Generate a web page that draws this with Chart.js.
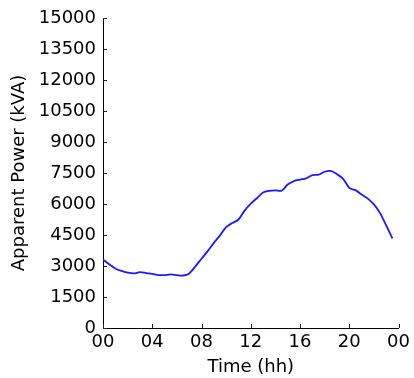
<!DOCTYPE html>
<html>
<head>
<meta charset="utf-8">
<script src="https://cdn.jsdelivr.net/npm/chart.js@4"></script>
<style>
  html, body { margin: 0; padding: 0; background: #fff; }
  #wrap { width: 414px; height: 378px; }
</style>
</head>
<body>
<div id="wrap"><canvas id="c" width="414" height="378"></canvas></div>
<script>
// Half-hourly load profile over one day
const hours = [
  0, 0.5, 1, 1.5, 2, 2.5, 3, 3.5, 4, 4.5, 5, 5.5,
  6, 6.5, 7, 7.5, 8, 8.5, 9, 9.5, 10, 10.5, 11, 11.5,
  12, 12.5, 13, 13.5, 14, 14.5, 15, 15.5, 16, 16.5, 17, 17.5,
  18, 18.5, 19, 19.5, 20, 20.5, 21, 21.5, 22, 22.5, 23, 23.5
];
const apparentPower = [
  3320, 3080, 2880, 2760, 2680, 2640, 2700, 2660, 2620, 2560, 2560, 2590,
  2560, 2540, 2640, 2980, 3350, 3720, 4120, 4480, 4880, 5080, 5250, 5680,
  6020, 6280, 6560, 6640, 6660, 6640, 6940, 7110, 7180, 7240, 7400, 7420,
  7560, 7600, 7440, 7220, 6780, 6670, 6460, 6260, 5980, 5560, 4960, 4340
];
const xTicks = [0, 4, 8, 12, 16, 20, 24];
const yTicks = [0, 1500, 3000, 4500, 6000, 7500, 9000, 10500, 12000, 13500, 15000];

const FONT = 'DejaVu Sans';
const FONT_SIZE = 18;

// Short tick marks pointing into the plot area
const inwardTicks = {
  id: 'inwardTicks',
  afterDraw(chart) {
    const { ctx, chartArea, scales } = chart;
    ctx.save();
    ctx.strokeStyle = '#222';
    ctx.lineWidth = 1;
    ctx.beginPath();
    xTicks.forEach(v => {
      const px = Math.round(scales.x.getPixelForValue(v)) + 0.5;
      ctx.moveTo(px, chartArea.bottom);
      ctx.lineTo(px, chartArea.bottom - 4);
    });
    yTicks.forEach(v => {
      const py = Math.round(scales.y.getPixelForValue(v)) + 0.5;
      ctx.moveTo(chartArea.left, py);
      ctx.lineTo(chartArea.left + 4, py);
    });
    ctx.stroke();
    ctx.restore();
  }
};

new Chart(document.getElementById('c'), {
  type: 'line',
  data: {
    datasets: [{
      data: hours.map((h, i) => ({ x: h, y: apparentPower[i] })),
      borderColor: '#1a1aff',
      borderWidth: 1.8,
      pointRadius: 0,
      tension: 0.3,
      fill: false
    }]
  },
  options: {
    responsive: false,
    animation: false,
    devicePixelRatio: 1,
    layout: { padding: { left: 0, right: 11, top: 18, bottom: 0 } },
    plugins: { legend: { display: false }, tooltip: { enabled: false } },
    scales: {
      x: {
        type: 'linear',
        min: 0, max: 24,
        afterFit(scale) { scale.height = 50; },
        afterBuildTicks(scale) { scale.ticks = xTicks.map(v => ({ value: v })); },
        ticks: {
          color: '#000',
          font: { family: FONT, size: FONT_SIZE },
          padding: 4,
          maxRotation: 0,
          autoSkip: false,
          callback: v => String(v % 24).padStart(2, '0')
        },
        grid: { display: false, drawTicks: false },
        border: { display: true, color: '#000', width: 1 },
        title: {
          display: true,
          text: 'Time (hh)',
          color: '#000',
          font: { family: FONT, size: FONT_SIZE },
          padding: { top: 0, bottom: 0 }
        }
      },
      y: {
        type: 'linear',
        min: 0, max: 15000,
        afterFit(scale) { scale.width = 103; },
        afterBuildTicks(scale) { scale.ticks = yTicks.map(v => ({ value: v })); },
        ticks: {
          color: '#000',
          font: { family: FONT, size: FONT_SIZE },
          padding: 7,
          autoSkip: false,
          callback: v => String(v)
        },
        grid: { display: false, drawTicks: false },
        border: { display: true, color: '#000', width: 1 },
        title: {
          display: true,
          text: 'Apparent Power (kVA)',
          color: '#000',
          font: { family: FONT, size: FONT_SIZE },
          padding: { top: 9, bottom: 0 }
        }
      }
    }
  },
  plugins: [inwardTicks]
});
</script>
</body>
</html>
